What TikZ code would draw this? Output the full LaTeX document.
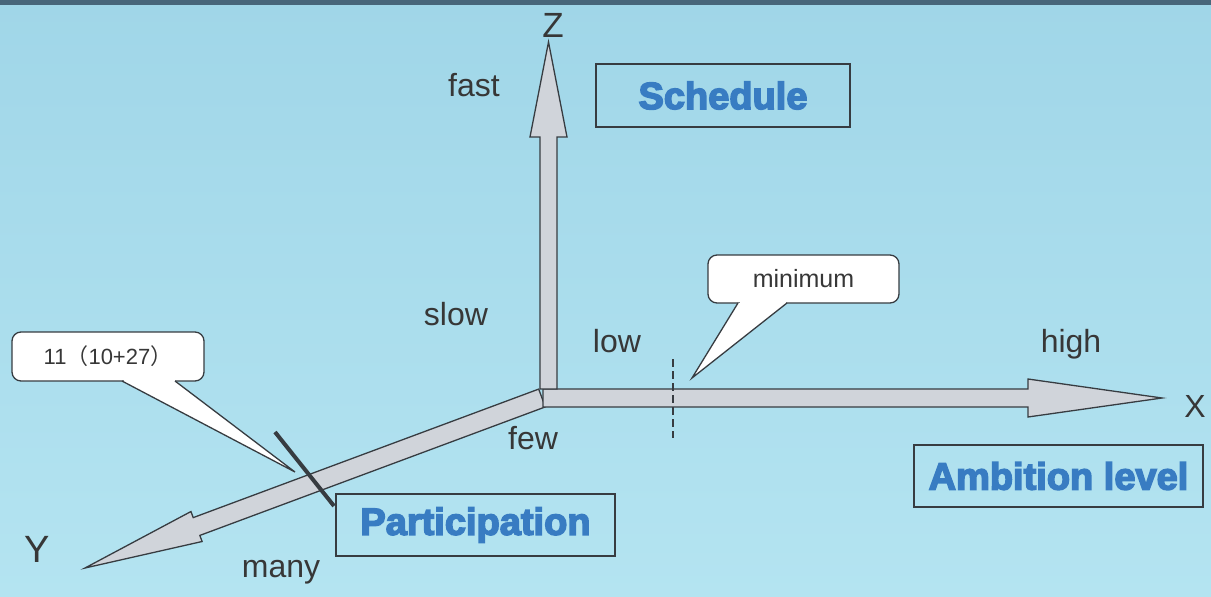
\documentclass[tikz,border=0pt]{standalone}
\usepackage{fontspec}
\setmainfont{Liberation Sans}
\newfontfamily\cjk{Noto Sans CJK SC}
\newfontfamily\heavy[FakeBold=4]{Liberation Sans Bold}
\usetikzlibrary{calc}

\definecolor{skyblue}{RGB}{160,214,232}
\definecolor{skylight}{RGB}{180,228,241}
\definecolor{topbar}{RGB}{72,102,122}
\definecolor{axisgray}{RGB}{208,212,218}
\definecolor{edgegray}{RGB}{55,60,65}
\definecolor{labelgray}{RGB}{55,55,55}
\definecolor{titleblue}{RGB}{56,124,194}

% block arrow: start, tip, shaft half width, head half width, head length, base name
\newcommand{\blockaxis}[6]{%
  \coordinate (#6) at ($(#2)!#5!(#1)$);
  \filldraw[axis] ($(#1)!#3!90:(#2)$) -- ($(#6)!#3!90:(#2)$) -- ($(#6)!#4!90:(#2)$) -- (#2)
    -- ($(#6)!#4!-90:(#2)$) -- ($(#6)!#3!-90:(#2)$) -- ($(#1)!#3!-90:(#2)$) -- cycle;
}

\begin{document}
\begin{tikzpicture}[x=1pt, y=-1pt,
    axis/.style={fill=axisgray, draw=edgegray, line width=1.3pt, line join=miter},
    axlabel/.style={text=labelgray, inner sep=0pt, anchor=base, font=\fontsize{32}{36}\selectfont},
    titlebox/.style={draw=edgegray, line width=1.8pt, inner sep=0pt, text=titleblue, font=\heavy\fontsize{38}{42}\selectfont},
    callbox/.style={fill=white, draw=edgegray, line width=1.3pt},
    calltext/.style={callbox, rounded corners=9pt, inner sep=0pt, text=labelgray}]

    % Background
    \shade[top color=skyblue, bottom color=skylight] (0,0) rectangle (1211,597);
    \fill[topbar] (0,0) rectangle (1211,5);
    \useasboundingbox (0,0) rectangle (1211,597);

    % Axes
    \coordinate (O) at (542,398);
    \coordinate (xstart) at (543,398);
    \coordinate (zstart) at (548.5,389);
    \coordinate (ytip) at (85,568);
    \coordinate (xtip) at (1162,398);
    \coordinate (ztip) at (548.5,42);
    \blockaxis{O}{ytip}{9.5pt}{16pt}{119pt}{yhead}
    \blockaxis{xstart}{xtip}{9pt}{19pt}{134pt}{xhead}
    \blockaxis{zstart}{ztip}{8.5pt}{18.5pt}{95pt}{zhead}

    % Marks on the axes
    \draw[edgegray, line width=4pt] (275,432) -- (334,506);
    \draw[edgegray, line width=2.8pt, dash pattern=on 8pt off 4pt] (673,359) -- (673,438);

    % Axis names and ends
    \node[axlabel, font=\fontsize{35}{38}\selectfont] (zname) at (553,37) {Z};
    \node[axlabel, font=\fontsize{32}{36}\selectfont] (xname) at (1195,417) {X};
    \node[axlabel, font=\fontsize{38}{42}\selectfont] (yname) at (37,562) {Y};
    \node[axlabel] (fast) at (474,96) {fast};
    \node[axlabel] (slow) at (456,325) {slow};
    \node[axlabel] (low) at (617,352) {low};
    \node[axlabel] (high) at (1071,352) {high};
    \node[axlabel] (few) at (533,449) {few};
    \node[axlabel] (many) at (281,577) {many};

    % Boxes
    \node[titlebox, minimum width=254, minimum height=63] (schedule) at (723,95.5) {Schedule};
    \node[titlebox, minimum width=279, minimum height=62] (participation) at (475.5,525) {Participation};
    \node[titlebox, minimum width=289, minimum height=62] (ambition) at (1058.5,476) {Ambition level};

    % Callouts
    \coordinate (numtip) at (295,472);
    \coordinate (mintip) at (692,378);
    \node[calltext, minimum width=192, minimum height=49, font=\fontsize{22}{25}\selectfont] (callnum) at (108,356.5) {11{\cjk （}10+27{\cjk ）}};
    \fill[white] (123.5,379) rectangle (174.5,381.7);
    \filldraw[callbox] (122,381) -- (numtip) -- (175,381);
    \node[calltext, minimum width=191, minimum height=48, font=\fontsize{25}{28}\selectfont] (callmin) at (803.5,279) {minimum};
    \fill[white] (739.5,301) rectangle (785.5,303.7);
    \filldraw[callbox] (738,303) -- (mintip) -- (787,303);
\end{tikzpicture}
\end{document}
